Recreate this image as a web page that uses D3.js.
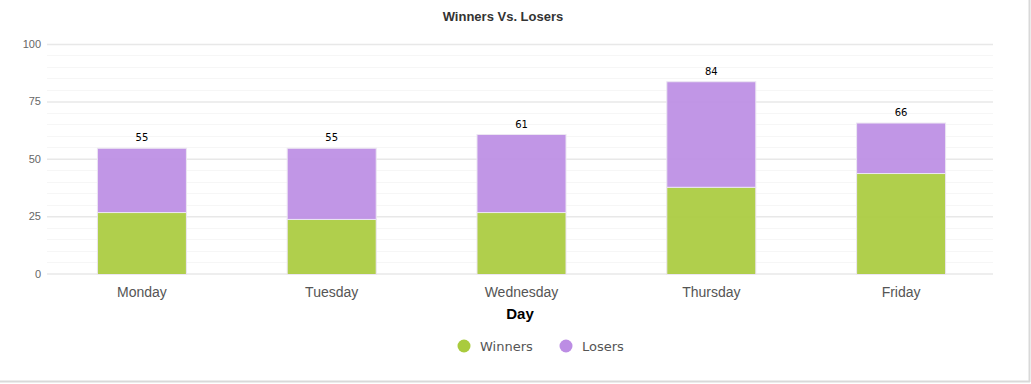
<!DOCTYPE html>
<html><head><meta charset="utf-8">
<script src="https://cdn.jsdelivr.net/npm/d3@7"></script>
<style>html,body{margin:0;padding:0;background:#fff;}svg{display:block;}</style>
</head><body>
<svg id="c" width="1031" height="384"></svg>
<script>
const days = ["Monday","Tuesday","Wednesday","Thursday","Friday"];
const winners = [27, 24, 27, 38, 44];
const losers = [28, 31, 34, 46, 22];
const yTicks = [0, 25, 50, 75, 100];
const seriesNames = ["Winners","Losers"];
const seriesColors = ["#a9cb3d","#bc8de4"];

const svg = d3.select("#c");
const W = 1031, H = 384;
const gridL = 47, gridR = 993;
const x = d3.scaleBand().domain(days).range([47, 996]).paddingInner(0.531).paddingOuter(0.2655);
const y = d3.scaleLinear().domain([0,100]).range([273.5, 44]);

// card border
svg.append("line").attr("x1",1029.5).attr("x2",1029.5).attr("y1",0).attr("y2",382).attr("stroke","#d9d9d9").attr("stroke-width",2);
svg.append("line").attr("x1",0).attr("x2",1030).attr("y1",381.5).attr("y2",381.5).attr("stroke","#d9d9d9").attr("stroke-width",2);

// minor grid
const g = svg.append("g");
g.selectAll("line.minor").data(d3.range(0,101,5).filter(v=>v%25!==0)).join("line")
  .attr("x1",gridL).attr("x2",gridR).attr("y1",d=>Math.round(y(d))+0.5).attr("y2",d=>Math.round(y(d))+0.5)
  .attr("stroke","#f6f6f6");
// major grid via axis
const yAxis = svg.append("g").attr("transform",`translate(${gridL},0)`)
  .call(d3.axisLeft(y).tickValues(yTicks).tickSize(-(gridR-gridL)).tickPadding(6));
yAxis.select(".domain").remove();
yAxis.selectAll(".tick line").attr("stroke","#e8e8e8").attr("stroke-width",1.5);
yAxis.selectAll(".tick text").attr("fill","#666").style("font-family","Liberation Sans, Arial, sans-serif").style("font-size","11px");

// stacked bars
const stackData = days.map((d,i)=>({day:d, Winners:winners[i], Losers:losers[i]}));
const stack = d3.stack().keys(seriesNames)(stackData);
svg.append("g").selectAll("g").data(stack).join("g")
  .attr("fill",(d,i)=>seriesColors[i]).attr("fill-opacity",0.92)
  .selectAll("rect").data(d=>d).join("rect")
  .attr("x",d=>x(d.data.day)).attr("width",x.bandwidth())
  .attr("y",d=>y(d[1])+1).attr("height",d=>y(d[0])-y(d[1]))
  .attr("stroke","#ece6f2").attr("stroke-width",1);

// totals
svg.append("g").selectAll("text").data(stackData).join("text")
  .attr("x",d=>x(d.day)+x.bandwidth()/2).attr("y",d=>y(d.Winners+d.Losers)-6)
  .attr("text-anchor","middle").attr("fill","#000")
  .style("font-family","DejaVu Sans, Verdana, sans-serif").style("font-size","10px")
  .text(d=>d.Winners+d.Losers);

// x axis labels
const xAxis = svg.append("g").attr("transform","translate(0,273)")
  .call(d3.axisBottom(x).tickSize(0).tickPadding(14));
xAxis.select(".domain").remove();
xAxis.selectAll(".tick text").attr("fill","#555").style("font-family","Liberation Sans, Arial, sans-serif").style("font-size","14px");

// axis title
svg.append("text").attr("x",(gridL+gridR)/2).attr("y",319).attr("text-anchor","middle")
  .style("font-family","Liberation Sans, Arial, sans-serif").style("font-size","15px").style("font-weight","bold").attr("fill","#000").text("Day");

// chart title
svg.append("text").attr("x",503).attr("y",21).attr("text-anchor","middle")
  .style("font-family","Liberation Sans, Arial, sans-serif").style("font-size","13px").style("font-weight","bold").attr("fill","#333").text("Winners Vs. Losers");

// legend
const legX = [464, 566];
const leg = svg.append("g").selectAll("g").data(seriesNames).join("g")
  .attr("transform",(d,i)=>`translate(${legX[i]},346)`);
leg.append("circle").attr("r",6.5).attr("fill",(d,i)=>seriesColors[i]);
leg.append("text").attr("x",16).attr("y",5).attr("fill","#555")
  .style("font-family","DejaVu Sans, Verdana, sans-serif").style("font-size","13px").text(d=>d);
</script>
</body></html>
